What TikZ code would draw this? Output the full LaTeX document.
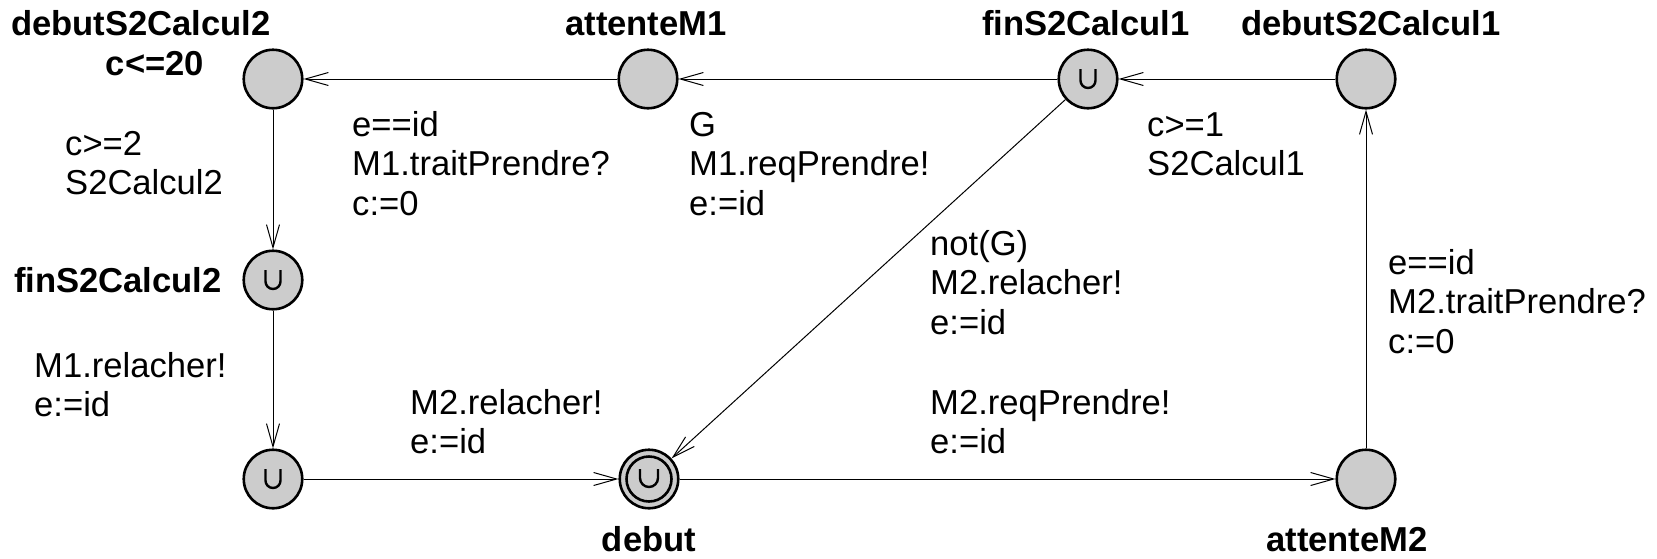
\documentclass[tikz,border=0pt]{standalone}
\usepackage{fontspec}
\setmainfont{Liberation Sans}
\usetikzlibrary{arrows.meta}
\definecolor{locgray}{HTML}{CCCCCC}
\begin{document}
\begin{tikzpicture}[x=1pt,y=-1pt,
  loc/.style={circle,draw=black,fill=locgray,line width=2.6pt,minimum size=58.5pt,inner sep=0pt},
  lbl/.style={font=\fontsize{34.6}{39.6}\selectfont,align=left,inner sep=0pt,anchor=base west},
  blbl/.style={font=\fontsize{34.6}{39.6}\selectfont\bfseries,inner sep=0pt,anchor=base},
  edge/.style={line width=1pt,-{Straight Barb[length=23pt,width=13pt,line width=1pt]}},
  umark/.style={line width=2.4pt},
  ]
\useasboundingbox (0,0) rectangle (1657,558);
% locations
\node[loc] (A) at (273,79) {};
\node[loc] (B) at (648,79) {};
\node[loc] (C) at (1088,79) {};
\node[loc] (D) at (1366,79) {};
\node[loc] (E) at (273,280) {};
\node[loc] (F) at (273,479) {};
\node[loc] (G) at (649,479) {};
\node[loc] (H) at (1366,479) {};
\draw[line width=2.6pt] (G.center) circle[radius=22.5];
% committed marks
\foreach \n in {C,E,F}{
  \draw[umark] ([shift={(-7.5,-10)}]\n.center) -- ++(0,11.5) arc[start angle=180,end angle=0,radius=7.5] -- ++(0,-11.5);
}
\draw[umark] ([shift={(-9,-10)}]G.center) -- ++(0,9) arc[start angle=180,end angle=0,radius=9] -- ++(0,-9);
% location names
\node[blbl] (nA) at (141,35) {debutS2Calcul2};
\node[blbl] (iA) at (155,75) {c<=20};
\node[blbl] (nB) at (646,35) {attenteM1};
\node[blbl] (nC) at (1086,35) {finS2Calcul1};
\node[blbl] (nD) at (1371,35) {debutS2Calcul1};
\node[blbl,anchor=base east] (nE) at (222,292) {finS2Calcul2};
\node[blbl] (nG) at (649,551) {debut};
\node[blbl] (nH) at (1347,551) {attenteM2};
% edges
\draw[edge] (B) -- (A);
\draw[edge] (C) -- (B);
\draw[edge] (D) -- (C);
\draw[edge] (A) -- (E);
\draw[edge] (E) -- (F);
\draw[edge] (F) -- (G);
\draw[edge] (C) -- (G);
\draw[edge] (G) -- (H);
\draw[edge] (H) -- (D);
% edge labels (anchored at the baseline of their last line)
\node[lbl] (lBA) at (352,215.2) {e==id\\M1.traitPrendre?\\c:=0};
\node[lbl] (lAE) at (65,194.6) {c>=2\\S2Calcul2};
\node[lbl] (lCB) at (689,215.2) {G\\M1.reqPrendre!\\e:=id};
\node[lbl] (lDC) at (1147,175.6) {c>=1\\S2Calcul1};
\node[lbl] (lCG) at (930,334.2) {not(G)\\M2.relacher!\\e:=id};
\node[lbl] (lHD) at (1388,353.2) {e==id\\M2.traitPrendre?\\c:=0};
\node[lbl] (lEF) at (34,416.6) {M1.relacher!\\e:=id};
\node[lbl] (lFG) at (410,453.6) {M2.relacher!\\e:=id};
\node[lbl] (lGH) at (930,453.6) {M2.reqPrendre!\\e:=id};
\end{tikzpicture}
\end{document}
